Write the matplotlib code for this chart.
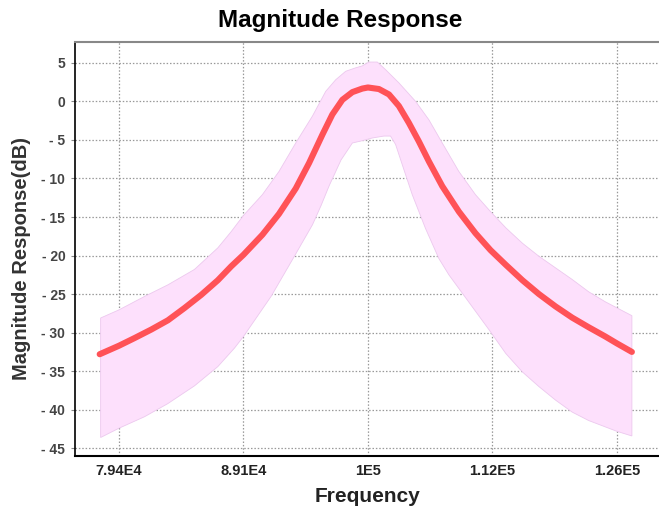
import numpy as np
import matplotlib
matplotlib.use("Agg")
import matplotlib.pyplot as plt
from matplotlib.ticker import FixedLocator, FixedFormatter, NullLocator

# ----------------------------------------------------------------------
# Data (frequency in Hz, magnitude in dB)
# ----------------------------------------------------------------------
line_freq = [78030, 79430, 80590, 81840, 83110, 84400, 85710, 87040, 88120,
             89125, 90700, 92100, 93540, 94700, 95880, 96760, 97660, 98570,
             99480, 100000, 101020, 101960, 102900, 103860, 104820, 105800,
             107110, 108770, 110450, 112000, 113590, 115350, 117130, 118940,
             120780, 122640, 124540, 125890, 127640]
line_db = [-32.8, -31.7, -30.7, -29.6, -28.4, -26.8, -25.1, -23.2, -21.4,
           -19.9, -17.3, -14.6, -11.3, -8.0, -4.3, -1.7, 0.2, 1.2,
           1.66, 1.8, 1.6, 0.9, -0.6, -2.8, -5.2, -7.8,
           -11.0, -14.3, -17.1, -19.3, -21.2, -23.2, -25.0, -26.6,
           -28.05, -29.3, -30.5, -31.4, -32.5]

upper_freq = [78100, 79430, 81340, 83110, 85180, 87040, 88120, 89125, 90700,
              92100, 93540, 95000, 96170, 97060, 97960, 98870, 99480, 100090,
              100870, 101650, 102900, 104500, 105800, 107110, 108770, 110450,
              112000, 113590, 115350, 117130, 118940, 120780, 122640, 124540,
              127640]
upper_db = [-28.1, -27.05, -25.3, -23.8, -21.8, -19.0, -16.9, -14.8, -12.1,
            -9.1, -5.4, -1.9, 1.3, 2.8, 3.9, 4.35, 4.6, 5.1,
            5.1, 4.1, 2.4, 0.0, -2.4, -5.4, -9.1, -12.1,
            -14.3, -16.4, -18.4, -20.1, -21.6, -23.1, -24.7, -26.0,
            -27.8]

lower_freq = [78100, 79430, 81340, 83110, 85180, 87040, 88390, 89125, 91430,
              93420, 95000, 95760, 96460, 97540, 98570, 99480, 100400, 101490,
              102110, 102590, 103220, 104180, 105470, 106780, 107770, 111860,
              113590, 115350, 117130, 118940, 120780, 122640, 125890, 127640]
lower_db = [-43.6, -42.4, -40.9, -39.2, -36.9, -34.4, -32.0, -30.5, -25.3,
            -20.1, -16.0, -13.5, -11.0, -7.6, -5.4, -5.1, -4.75, -4.5,
            -4.5, -5.6, -8.2, -12.1, -16.5, -20.4, -22.5, -29.65,
            -32.7, -35.1, -37.0, -38.75, -40.3, -41.4, -42.8, -43.4]

xtick_vals = [79433, 89125, 100000, 112202, 125893]
xtick_labels = ["7.94E4", "8.91E4", "1E5", "1.12E5", "1.26E5"]
ytick_vals = [5, 0, -5, -10, -15, -20, -25, -30, -35, -40, -45]

plt.rcParams["font.family"] = ["Liberation Sans", "DejaVu Sans"]

fig = plt.figure(figsize=(6.59, 5.09), dpi=100)
ax = fig.add_axes([75 / 659, 1 - 456 / 509, 1 - 75 / 659, (456 - 42) / 509])

# confidence band as a closed polygon (upper edge, then lower edge reversed)
band_x = np.concatenate([upper_freq, lower_freq[::-1]])
band_y = np.concatenate([upper_db, lower_db[::-1]])
ax.fill(band_x, band_y, facecolor="#fde0fc", edgecolor="#ecc8ee",
        linewidth=0.6, zorder=2)

ax.plot(line_freq, line_db, color="#ff5257", linewidth=4.4,
        solid_capstyle="round", solid_joinstyle="round", zorder=3)

ax.set_xscale("log")
ax.set_xlim(76270, 130880)
ax.set_ylim(-46, 7.7)

ax.xaxis.set_major_locator(FixedLocator(xtick_vals))
ax.xaxis.set_major_formatter(FixedFormatter(xtick_labels))
ax.xaxis.set_minor_locator(NullLocator())
ax.yaxis.set_major_locator(FixedLocator(ytick_vals))
ax.yaxis.set_major_formatter(FixedFormatter(
    [str(v) if v >= 0 else "- " + str(-v) for v in ytick_vals]))

ax.grid(True, color="#999999", linestyle=(0, (1.2, 1.5)), linewidth=0.9)
ax.set_axisbelow(True)

ax.tick_params(axis="x", length=0, pad=6, labelsize=10.5, labelcolor="#222222")
ax.tick_params(axis="y", length=3, width=0.8, color="#888888", pad=4,
               labelsize=10, labelcolor="#444444")
for lbl in ax.get_xticklabels() + ax.get_yticklabels():
    lbl.set_fontweight("bold")

ax.spines["right"].set_visible(False)
ax.spines["top"].set_color("#888888")
ax.spines["top"].set_linewidth(1.5)
ax.spines["left"].set_color("black")
ax.spines["bottom"].set_color("black")
ax.spines["left"].set_linewidth(1.2)
ax.spines["bottom"].set_linewidth(1.5)

fig.text(0.516, 1 - 20 / 509, "Magnitude Response", ha="center", va="center",
         fontsize=17.5, fontweight="bold", color="black")
fig.text(0.557, 1 - 497 / 509, "Frequency", ha="center", va="center",
         fontsize=15, fontweight="bold", color="#222222")
fig.text(22 / 659, 1 - 258 / 509, "Magnitude Response(dB)", ha="center",
         va="center", rotation=90, fontsize=14.5, fontweight="bold",
         color="#333333")

fig.savefig("out.png", dpi=100)
